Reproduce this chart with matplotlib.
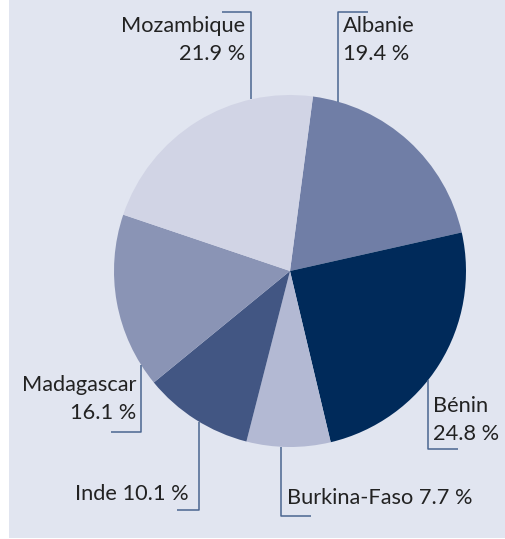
import numpy as np
import matplotlib
matplotlib.use("Agg")
import matplotlib.pyplot as plt
from matplotlib.patches import Rectangle

countries = ["Albanie", "Bénin", "Burkina-Faso", "Inde", "Madagascar", "Mozambique"]
shares = [19.4, 24.8, 7.7, 10.1, 16.1, 21.9]
labels = ["Albanie\n19.4 %", "Bénin\n24.8 %", "Burkina-Faso 7.7 %", "Inde 10.1 %",
          "Madagascar\n16.1 %", "Mozambique\n21.9 %"]
colors = ["#707ea6", "#002a5a", "#b3b9d3", "#425683", "#8a94b5", "#d1d4e5"]

W, H = 505, 539
fig = plt.figure(figsize=(W / 100, H / 100), dpi=100)
ax = fig.add_axes([0, 0, 1, 1])

def py(y):
    return H - y

ax.add_patch(Rectangle((9, py(538)), W - 9, 538, facecolor="#e1e5f0", edgecolor="none", zorder=0))

cx, cy, R = 290, py(271), 176
ax.pie(shares, colors=colors, startangle=82.5, counterclock=False, center=(cx, cy),
       radius=R, wedgeprops=dict(linewidth=0), frame=True)
ax.set_xlim(0, W)
ax.set_ylim(0, H)
ax.axis("off")

layout = {
    "Mozambique": dict(vx=251, ey=12, hx=222, tx=245, ty=40, ha="right", top=True),
    "Albanie": dict(vx=338, ey=12, hx=368, tx=343, ty=40, ha="left", top=True),
    "Madagascar": dict(vx=141, ey=432, hx=111, tx=136, ty=399, ha="right", top=False),
    "Inde": dict(vx=199, ey=510, hx=177, tx=189, ty=494, ha="right", top=False),
    "Burkina-Faso": dict(vx=281, ey=516, hx=311, tx=287, ty=498, ha="left", top=False),
    "Bénin": dict(vx=428, ey=449, hx=458, tx=433, ty=420, ha="left", top=False),
}
lc = "#4a6690"
font = dict(family=["Lato", "DejaVu Sans"], fontweight="normal", fontsize=15.7, color="#222222")
for name, lab in zip(countries, labels):
    L = layout[name]
    dx = L["vx"] - cx
    dy = np.sqrt(max(R ** 2 - dx ** 2, 0))
    y_edge = cy + dy if L["top"] else cy - dy
    ax.plot([L["vx"], L["vx"], L["hx"]], [y_edge, py(L["ey"]), py(L["ey"])],
            color=lc, lw=1.1, solid_capstyle="butt", zorder=3)
    ax.text(L["tx"], py(L["ty"]), lab, ha=L["ha"], va="center", linespacing=1.5,
            multialignment=L["ha"], **font)

fig.savefig("out.png", dpi=100, facecolor="white")
